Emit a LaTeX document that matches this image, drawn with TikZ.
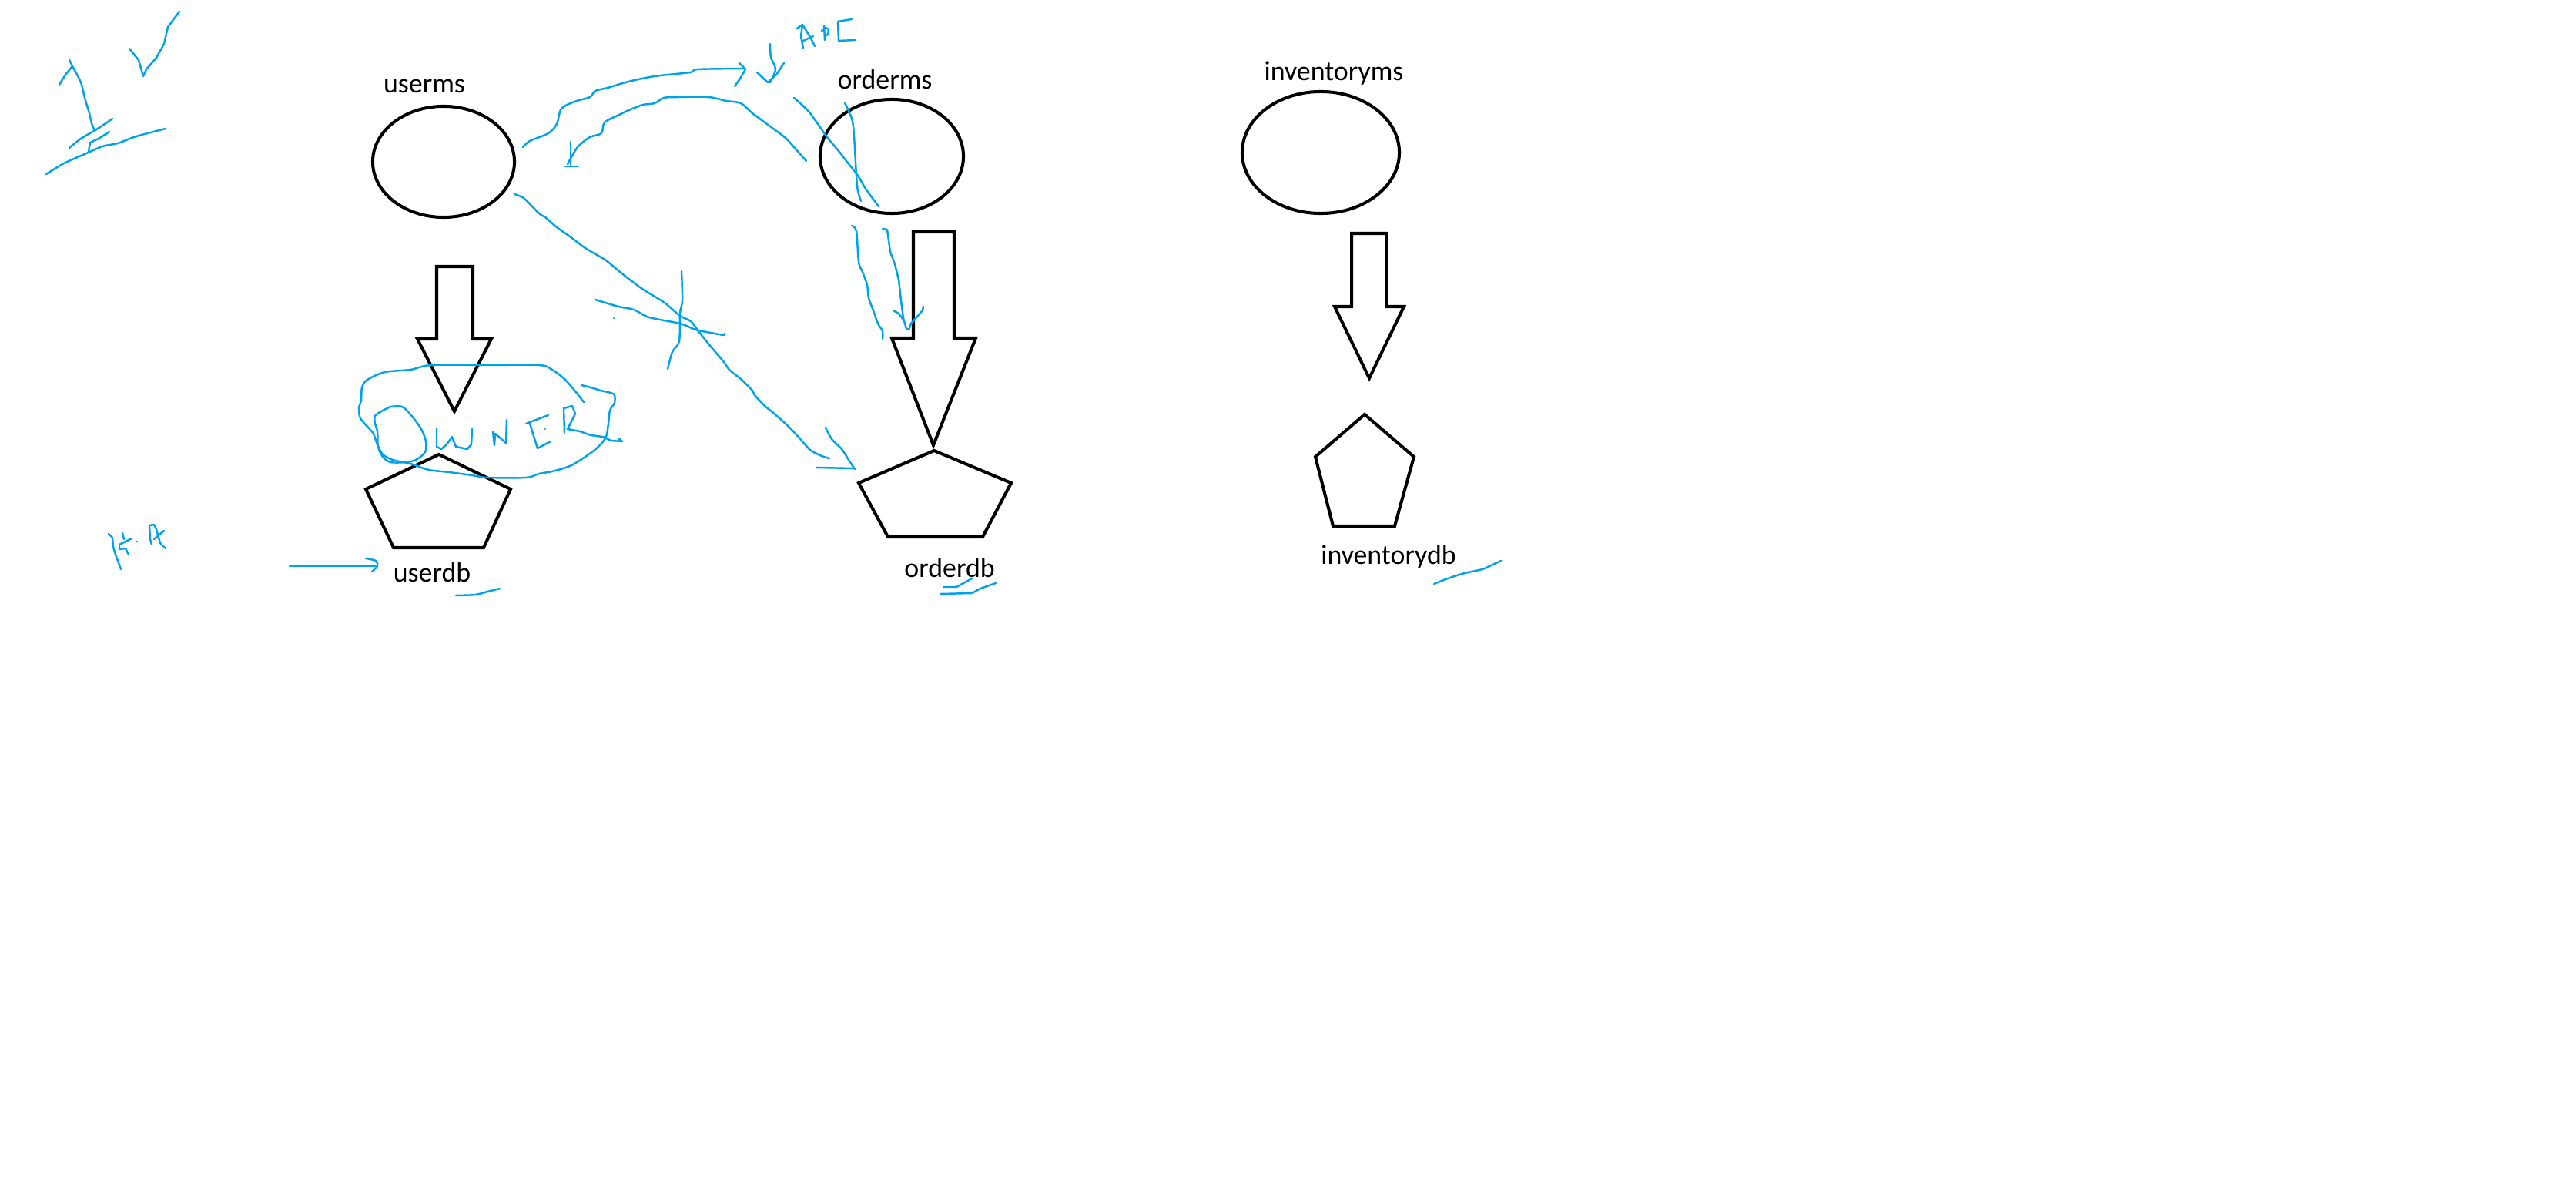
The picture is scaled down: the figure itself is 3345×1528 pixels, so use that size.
\documentclass[tikz,border=0pt]{standalone}
\usepackage{fontspec}
\setmainfont{Carlito}
\usetikzlibrary{shapes.geometric}
\definecolor{ink}{RGB}{0,162,232}
\tikzset{
  shapeline/.style={draw=black, line width=1.15pt, line join=miter},
  svc/.style={ellipse, draw=black, line width=1.15pt, inner sep=0pt},
  pen/.style={draw=ink, line width=0.7pt, line cap=round, line join=round},
  lbl/.style={font=\fontsize{10.2}{12}\selectfont, anchor=base, inner sep=0pt},
}
\begin{document}
\begin{tikzpicture}[x=0.01cm, y=-0.01cm]
\useasboundingbox[fill=white] (0,0) rectangle (3345,1528);

% ---------- black diagram ----------
\node[svc, minimum width=1.84cm, minimum height=1.44cm] (userms) at (576,210) {};
\node[svc, minimum width=1.86cm, minimum height=1.48cm] (orderms) at (1158,203) {};
\node[svc, minimum width=2.04cm, minimum height=1.58cm] (invms) at (1715,198) {};

\node[lbl] (usermsl) at (551,121) {userms};
\node[lbl] (ordermsl) at (1149,116) {orderms};
\node[lbl] (invmsl) at (1732,105) {inventoryms};
\node[lbl] (userdbl) at (561,755) {userdb};
\node[lbl] (orderdbl) at (1233,750) {orderdb};
\node[lbl] (invdbl) at (1803,733) {inventorydb};

% block arrows
\draw[shapeline] (567,346) -- (614,346) -- (614,440) -- (638,440) -- (590,534) -- (542,440) -- (567,440) -- cycle;
\draw[shapeline] (1186,301) -- (1239,301) -- (1239,439) -- (1267,439) -- (1212,578) -- (1158,439) -- (1186,439) -- cycle;
\draw[shapeline] (1755,303) -- (1800,303) -- (1800,398) -- (1823,398) -- (1778,491) -- (1733,398) -- (1755,398) -- cycle;

% pentagons
\draw[shapeline] (570,590) -- (663,635) -- (628,711) -- (511,711) -- (475,635) -- cycle;
\draw[shapeline] (1213,585) -- (1313,627) -- (1276,697) -- (1153,697) -- (1115,627) -- cycle;
\draw[shapeline] (1772,538) -- (1836,593) -- (1811,683) -- (1731,683) -- (1708,593) -- cycle;

% ---------- blue pen ----------
% top-left marks
\draw[pen] plot coordinates {(90,78) (94,86) (85,97) (77,110)};
\draw[pen] plot[smooth] coordinates {(94,86) (105,107) (110,127) (116,147) (119,160) (123,170)};
\draw[pen] plot[smooth] coordinates {(90,192) (105,180) (122,170) (133,163) (146,154)};
\draw[pen] plot coordinates {(142,171) (128,180) (117,185) (115,197)};
\draw[pen] plot[smooth] coordinates {(60,226) (83,212) (110,200) (133,190) (153,186) (177,177) (215,167)};
\draw[pen] plot coordinates {(168,63) (180,78) (186,99) (190,90) (203,75) (213,57) (218,35) (233,15)};

% curve userms -> orderms
\draw[pen] plot[smooth, tension=0.5] coordinates {(679,191) (688,183) (712,173) (723,161) (729,141) (746,132) (766,126) (773,118) (789,114) (816,106) (850,99) (896,94) (906,90) (966,89)};
\draw[pen] plot coordinates {(960,82) (968,90) (961,102) (954,112)};

% curve orderms -> userms
\draw[pen] plot[smooth, tension=0.5] coordinates {(1047,209) (1031,191) (1020,179) (1000,164) (977,147) (962,134) (943,131) (920,126) (881,126) (862,127) (850,134) (835,136) (819,142) (804,149) (785,159) (781,173) (766,178) (750,191) (737,213)};
\draw[pen] (741,184) -- (741,214);
\draw[pen] (734,216) -- (751,216);

% small down arrow near APC
\draw[pen] plot[smooth] coordinates {(1000,57) (1001,74) (1007,90) (1000,107)};
\draw[pen] plot coordinates {(983,94) (997,107) (1008,97) (1018,82)};

% APC
\draw[pen] plot coordinates {(1035,37) (1042,32) (1047,40) (1053,50) (1058,60)};
\draw[pen] plot coordinates {(1042,32) (1040,47) (1043,63)};
\draw[pen] (1043,53) -- (1056,47);
\draw[pen] (1070,33) -- (1071,52);
\draw[pen] plot coordinates {(1067,40) (1072,36) (1076,38) (1075,45) (1071,47)};
\draw[pen] plot coordinates {(1106,25) (1088,28) (1089,53) (1111,52)};

% strokes through orderms
\draw[pen] plot[smooth] coordinates {(1031,127) (1039,134) (1052,147) (1074,178) (1089,196) (1099,209) (1114,228) (1124,245) (1141,268)};
\draw[pen] plot[smooth] coordinates {(1097,134) (1102,144) (1108,164) (1112,228) (1114,248) (1118,261)};

% strokes orderms -> orderdb
\draw[pen] plot[smooth] coordinates {(1106,293) (1112,300) (1115,340) (1120,353) (1126,370) (1128,387) (1134,403) (1140,420) (1146,430) (1146,440)};
\draw[pen] plot coordinates {(1146,297) (1152,298) (1156,327) (1162,343) (1167,363) (1170,390) (1173,413) (1177,427) (1180,428) (1183,420) (1198,403) (1199,398)};
\draw[pen] plot coordinates {(1160,403) (1167,407) (1173,415)};

% long diagonal userms -> orderdb
\draw[pen] plot[smooth, tension=0.4] coordinates {(668,252) (680,257) (700,277) (708,282) (723,295) (740,307) (760,322) (777,332) (787,338) (805,353) (823,367) (837,377) (863,393) (883,410) (897,417) (907,430) (923,450) (940,470) (947,480) (963,493) (977,507) (980,513) (993,527) (1003,535) (1020,550) (1033,563) (1048,580) (1053,585) (1067,592) (1077,595)};
\draw[pen] plot[smooth] coordinates {(1072,555) (1080,570) (1093,583) (1102,597) (1110,609)};
\draw[pen] (1060,607) -- (1110,608);

% cross mark
\draw[pen] plot[smooth] coordinates {(773,389) (803,398) (823,402) (843,412) (883,420) (903,428) (923,432) (940,435) (941,433)};
\draw[pen] plot[smooth] coordinates {(885,352) (886,390) (883,407) (882,443) (873,457) (867,479)};
\fill[ink] (797,413) circle (1.2);

% OWNER ring
\draw[pen] plot[smooth, tension=0.5] coordinates {(758,522) (747,508) (733,492) (717,480) (700,474) (630,474) (560,474) (533,480) (500,483) (477,493) (470,503) (469,520) (466,530) (468,543) (480,557) (485,563) (490,577) (497,590) (510,597) (533,602) (557,610) (583,613) (613,617) (633,620) (683,620) (700,615) (717,612) (740,605) (760,593) (777,580) (787,567) (790,550) (792,533) (798,523) (798,513) (793,510) (780,507) (767,503) (755,500)};
% O
\draw[pen] plot[smooth, tension=0.5] coordinates {(507,528) (522,528) (533,538) (547,557) (553,573) (552,587) (540,597) (527,600) (507,600) (497,593) (491,580) (490,560) (487,550) (487,540) (497,533) (507,528)};
% W
\draw[pen] plot coordinates {(567,556) (567,580) (573,583) (580,577) (587,567) (592,580) (607,583) (612,577) (613,557)};
% N
\draw[pen] plot coordinates {(640,560) (642,578) (643,563) (657,575) (658,545)};
% E
\draw[pen] (683,550) -- (712,539);
\draw[pen] (688,550) -- (698,582) -- (715,573);
\fill[ink] (708,557) circle (1.2);
% R with tail arrow
\draw[pen] plot coordinates {(733,562) (732,530) (743,527) (747,537) (737,557) (753,560) (767,565) (783,567) (793,572) (808,573) (803,569)};

% H.A
\draw[pen] plot coordinates {(141,693) (146,698) (147,710) (150,720) (153,728) (157,739)};
\draw[pen] (159,692) -- (161,700);
\draw[pen] plot coordinates {(171,699) (163,703) (155,707) (155,713) (163,712) (167,720)};
\fill[ink] (178,703) circle (1.3);
\draw[pen] plot coordinates {(197,707) (195,700) (194,682) (200,681) (203,687) (208,705) (215,712)};
\draw[pen] (200,700) -- (213,689);

% arrow to userdb
\draw[pen] (376,735) -- (488,735);
\draw[pen] plot[smooth] coordinates {(475,725) (488,728) (490,735) (483,742)};

% underlines
\draw[pen] plot[smooth] coordinates {(592,773) (617,772) (633,768) (649,764)};
\draw[pen] plot coordinates {(1225,762) (1242,762) (1253,756) (1262,751)};
\draw[pen] plot coordinates {(1221,771) (1262,770) (1273,764) (1293,757)};
\draw[pen] plot[smooth] coordinates {(1862,758) (1880,751) (1902,744) (1925,739) (1936,734) (1949,728)};
\end{tikzpicture}
\end{document}
